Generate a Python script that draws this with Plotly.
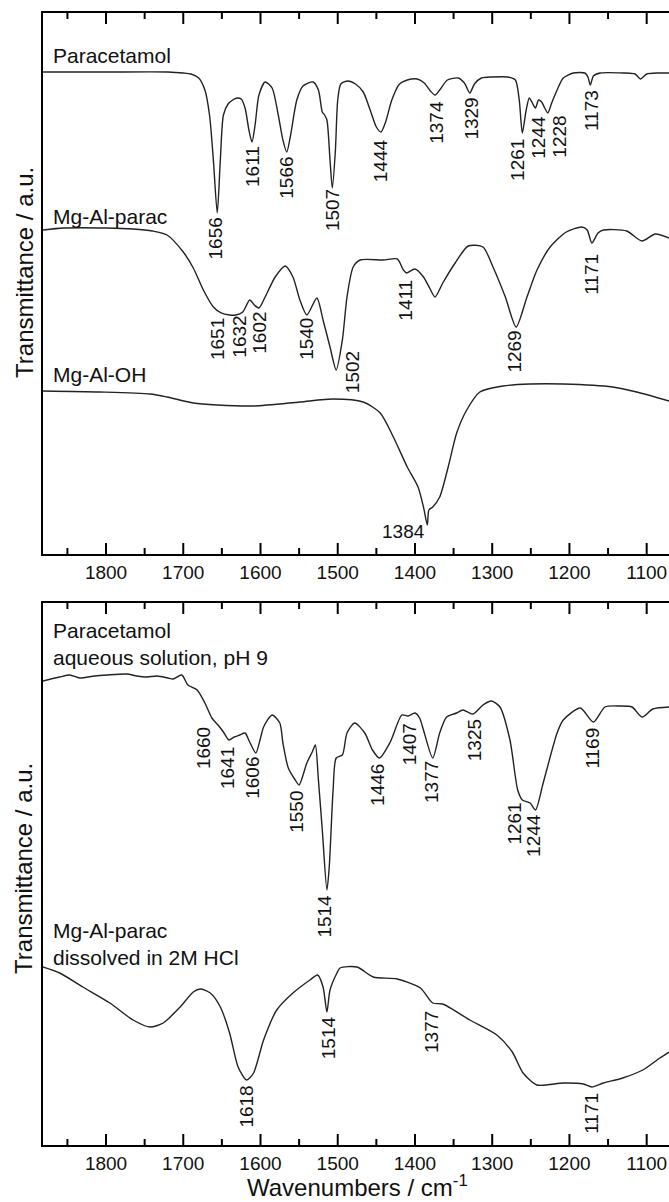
import plotly.graph_objects as go

# ---------------- spectra (wavenumber / cm-1, transmittance / a.u.) ----------------
# upper panel
para_wn = [1882, 1800, 1720, 1700, 1690, 1680, 1672, 1666, 1661, 1656, 1652, 1648, 1642, 1636,
           1630, 1625, 1620, 1615, 1611, 1607, 1602, 1594, 1585, 1577, 1571, 1566, 1561, 1553,
           1545, 1532, 1525, 1520, 1517, 1514, 1510, 1507, 1503, 1500, 1496, 1487, 1477, 1467,
           1458, 1450, 1444, 1438, 1430, 1420, 1410, 1397, 1388, 1380, 1374, 1368, 1358, 1344,
           1336, 1329, 1323, 1314, 1300, 1280, 1270, 1265, 1261, 1256, 1252, 1248, 1244, 1240,
           1236, 1232, 1228, 1223, 1216, 1208, 1195, 1180, 1176, 1173, 1169, 1160, 1130, 1115,
           1108, 1100, 1085, 1071]
para_t = [482, 482, 482, 481, 480, 476, 464, 439, 394, 341, 394, 439, 450, 454,
          456, 455, 446, 424, 412, 429, 459, 472, 466, 439, 414, 402, 419, 454,
          468, 472, 464, 442, 439, 434, 394, 366, 404, 454, 470, 473, 470, 462,
          444, 427, 422, 432, 454, 470, 474, 475, 471, 463, 459, 464, 474, 476,
          471, 461, 470, 476, 477, 477, 474, 454, 421, 444, 456, 451, 446, 454,
          452, 446, 441, 451, 464, 476, 481, 481, 477, 469, 478, 481, 481, 480,
          475, 480, 481, 481]

ldh_parac_wn = [1882, 1855, 1800, 1765, 1740, 1721, 1700, 1687, 1674, 1661, 1651, 1640, 1632,
                1623, 1614, 1608, 1602, 1594, 1581, 1568, 1558, 1549, 1540, 1527, 1519, 1510,
                1502, 1494, 1488, 1480, 1471, 1441, 1423, 1415, 1411, 1400, 1389, 1381, 1374,
                1364, 1348, 1331, 1312, 1299, 1283, 1269, 1255, 1242, 1225, 1204, 1184, 1177,
                1171, 1163, 1156, 1126, 1106, 1089, 1071]
ldh_parac_t = [324, 326, 326, 325, 323, 319, 302, 286, 264, 247, 241, 239, 239,
               242, 254, 249, 246, 257, 277, 288, 277, 254, 239, 256, 234, 207,
               184, 214, 257, 287, 294, 294, 295, 284, 281, 285, 277, 266, 257,
               271, 291, 308, 307, 287, 257, 227, 257, 284, 307, 322, 327, 324,
               311, 321, 324, 323, 313, 320, 316]

ldh_oh_wn = [1882, 1808, 1743, 1721, 1687, 1656, 1609, 1549, 1506, 1467, 1445, 1428, 1410,
             1396, 1389, 1384, 1382, 1377, 1368, 1357, 1346, 1333, 1316, 1286, 1251, 1208,
             1144, 1113, 1071]
ldh_oh_t = [163, 162, 160, 157, 151, 149, 148, 152, 155, 152, 141, 117, 87,
            67, 47, 29, 44, 47, 57, 87, 121, 144, 162, 168, 170, 170,
            167, 162, 153]

# lower panel
aq_wn = [1882, 1860, 1847, 1834, 1815, 1799, 1773, 1760, 1747, 1734, 1720, 1713, 1702, 1694,
         1682, 1672, 1663, 1655, 1648, 1641, 1634, 1627, 1620, 1614, 1606, 1600, 1596, 1585,
         1575, 1571, 1564, 1555, 1550, 1540, 1533, 1529, 1525, 1520, 1514, 1511, 1506, 1502,
         1494, 1488, 1478, 1465, 1455, 1446, 1432, 1417, 1409, 1400, 1394, 1389, 1377, 1368,
         1359, 1346, 1338, 1325, 1312, 1301, 1290, 1277, 1267, 1261, 1251, 1244, 1234, 1216,
         1208, 1186, 1169, 1154, 1135, 1119, 1106, 1092, 1071]
aq_t = [464, 468, 470, 467, 469, 470, 471, 469, 468, 469, 467, 466, 470, 460,
        455, 442, 427, 420, 413, 405, 408, 410, 412, 403, 392, 407, 418, 430,
        422, 402, 377, 365, 360, 382, 393, 400, 365, 315, 255, 278, 355, 387,
        390, 412, 422, 412, 395, 387, 403, 430, 429, 432, 427, 415, 387, 412,
        428, 432, 435, 431, 440, 444, 438, 405, 355, 345, 342, 335, 362, 412,
        425, 437, 423, 438, 439, 438, 428, 436, 438]

hcl_wn = [1882, 1860, 1830, 1795, 1765, 1743, 1726, 1704, 1687, 1678, 1665, 1652, 1640, 1629,
          1618, 1609, 1596, 1579, 1558, 1536, 1526, 1519, 1514, 1510, 1501, 1497, 1475, 1454,
          1423, 1393, 1377, 1364, 1329, 1294, 1274, 1260, 1242, 1208, 1182, 1171, 1156, 1131,
          1105, 1083, 1071]
hcl_t = [178, 172, 158, 142, 125, 118, 122, 138, 153, 156, 152, 138, 112, 78,
         65, 72, 105, 135, 152, 165, 170, 158, 133, 155, 172, 177, 178, 168,
         166, 157, 142, 141, 125, 110, 93, 72, 60, 62, 61, 58, 62, 67,
         75, 87, 93]

# ---------------- peak labels ----------------
para_peaks = ["1656", "1611", "1566", "1507", "1444", "1374", "1329", "1261", "1244", "1228", "1173"]
para_lab_x = [1657, 1611, 1566, 1506, 1445, 1373, 1328, 1268, 1241, 1214, 1172]
para_lab_y = [316, 387, 376, 344, 393, 432, 435, 394, 417, 417, 443]

ldh_parac_peaks = ["1651", "1632", "1602", "1540", "1502", "1411", "1269", "1171"]
ldh_parac_lab_x = [1655, 1627, 1601, 1540, 1480, 1412, 1271, 1171]
ldh_parac_lab_y = [215, 217, 221, 215, 182, 254, 202, 280]

aq_peaks = ["1660", "1641", "1606", "1550", "1514", "1446", "1407", "1377", "1325", "1261", "1244", "1169"]
aq_lab_x = [1673, 1642, 1610, 1553, 1517, 1448, 1406, 1378, 1322, 1271, 1246, 1170]
aq_lab_y = [397, 377, 367, 333, 229, 360, 401, 363, 405, 321, 310, 397]

hcl_peaks = ["1618", "1514", "1377", "1171"]
hcl_lab_x = [1618, 1511, 1378, 1171]
hcl_lab_y = [38, 107, 113, 32]

major_ticks = [1800, 1700, 1600, 1500, 1400, 1300, 1200, 1100]
minor_ticks = [1850, 1750, 1650, 1550, 1450, 1350, 1250, 1150]
X_RANGE = [1881.6, 1071.1]
Y_RANGE_TOP = [0, 541]
Y_RANGE_BOTTOM = [0, 542]

FONT = "Arial, Liberation Sans, Helvetica, sans-serif"
LINE = "#222222"
TXT = "#111111"

fig = go.Figure()


def spectrum(wn, t, xa, ya):
    fig.add_trace(go.Scatter(x=wn, y=t, mode="lines", xaxis=xa, yaxis=ya,
                             line=dict(color=LINE, width=1.4, shape="spline", smoothing=0.7),
                             hoverinfo="skip", showlegend=False))


spectrum(para_wn, para_t, "x2", "y2")
spectrum(ldh_parac_wn, ldh_parac_t, "x2", "y2")
spectrum(ldh_oh_wn, ldh_oh_t, "x2", "y2")
spectrum(aq_wn, aq_t, "x", "y")
spectrum(hcl_wn, hcl_t, "x", "y")


# inward tick marks on the bottom and top frame edge of each panel
# (the y scale is one unit per pixel, so tick length is given directly in axis units)
def frame_ticks(xa, ya, yrange):
    for vals, length in ((major_ticks, 11), (minor_ticks, 6)):
        xs, ys = [], []
        for v in vals:
            xs += [v, v, None, v, v, None]
            ys += [yrange[0], yrange[0] + length, None, yrange[1], yrange[1] - length, None]
        fig.add_trace(go.Scatter(x=xs, y=ys, mode="lines", xaxis=xa, yaxis=ya,
                                 connectgaps=False, cliponaxis=False,
                                 line=dict(color="#000000", width=2), hoverinfo="skip",
                                 showlegend=False))


frame_ticks("x", "y", Y_RANGE_BOTTOM)
frame_ticks("x2", "y2", Y_RANGE_TOP)

ann = []


def peak_labels(texts, xs, ys, xref, yref, angle=-90):
    for s, xv, yv in zip(texts, xs, ys):
        ann.append(dict(text=s, x=xv, y=yv, xref=xref, yref=yref, showarrow=False,
                        textangle=angle, xanchor="center", yanchor="middle",
                        font=dict(family=FONT, size=19, color=TXT)))


peak_labels(para_peaks, para_lab_x, para_lab_y, "x2", "y2")
peak_labels(ldh_parac_peaks, ldh_parac_lab_x, ldh_parac_lab_y, "x2", "y2")
peak_labels(["1384"], [1415.5], [22], "x2", "y2", angle=0)
peak_labels(aq_peaks, aq_lab_x, aq_lab_y, "x", "y")
peak_labels(hcl_peaks, hcl_lab_x, hcl_lab_y, "x", "y")


def name_label(text, yv, yref):
    ann.append(dict(text=text, x=1871, y=yv, xref="x" if yref == "y" else "x2", yref=yref,
                    showarrow=False, xanchor="left", yanchor="middle", align="left",
                    font=dict(family=FONT, size=21, color=TXT)))


name_label("Paracetamol", 499, "y2")
name_label("Mg-Al-parac", 337, "y2")
name_label("Mg-Al-OH", 179, "y2")
name_label("Paracetamol<br>aqueous solution, pH 9", 501, "y")
name_label("Mg-Al-parac<br>dissolved in 2M HCl", 201, "y")

# axis titles
for yc in (0.7712, 0.2447):
    ann.append(dict(text="Transmittance / a.u.", x=-0.0304, y=yc, xref="paper", yref="paper",
                    showarrow=False, textangle=-90, xanchor="center", yanchor="middle",
                    font=dict(family=FONT, size=24, color=TXT)))
ann.append(dict(text="Wavenumbers / cm<sup>-1</sup>", x=0.5016, y=-0.036, xref="paper",
                yref="paper", showarrow=False, xanchor="center", yanchor="middle",
                font=dict(family=FONT, size=24, color=TXT)))

xaxis_style = dict(range=X_RANGE, autorange=False, tickmode="array", tickvals=major_ticks,
                   ticktext=[str(v) for v in major_ticks], ticks="", showticklabels=True,
                   showline=True, linewidth=2, linecolor="#000000", mirror=True,
                   showgrid=False, zeroline=False,
                   tickfont=dict(family=FONT, size=19, color=TXT))
yaxis_style = dict(showline=True, linewidth=2, linecolor="#000000", mirror=False, ticks="",
                   showticklabels=False, showgrid=False, zeroline=False, autorange=False)

fig.update_layout(
    template="simple_white",
    width=669, height=1202,
    margin=dict(l=43, r=0, t=13, b=57),
    paper_bgcolor="white", plot_bgcolor="white",
    xaxis=dict(anchor="y", **xaxis_style),
    yaxis=dict(domain=[0, 0.4788], range=Y_RANGE_BOTTOM, anchor="x", **yaxis_style),
    xaxis2=dict(anchor="y2", **xaxis_style),
    yaxis2=dict(domain=[0.5221, 1], range=Y_RANGE_TOP, anchor="x2", **yaxis_style),
    annotations=ann,
    showlegend=False,
)

fig.write_html("out.html", config={"displayModeBar": False})
